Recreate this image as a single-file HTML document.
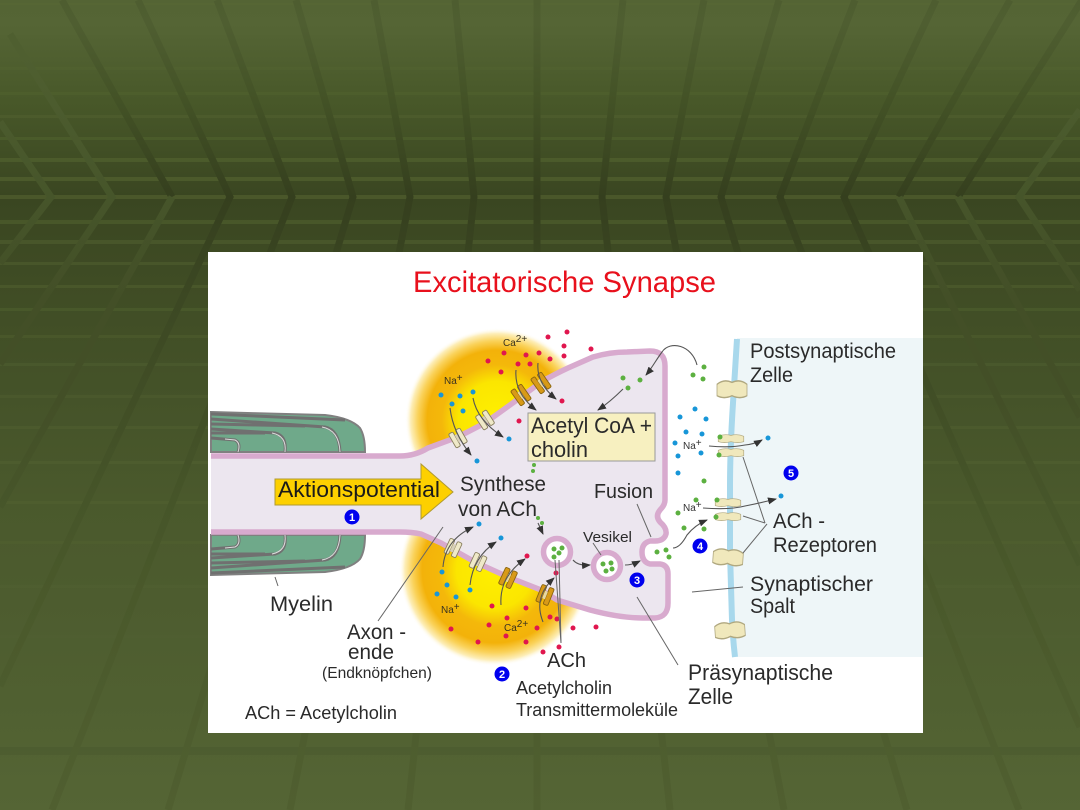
<!DOCTYPE html>
<html lang="de">
<head>
<meta charset="utf-8">
<title>Excitatorische Synapse</title>
<style>
html,body{margin:0;padding:0;background:#4a582c}
svg{display:block}
text{font-family:"Liberation Sans",sans-serif;fill:#2a2a2a}
.s{font-size:10px;fill:#3a3320}
.w{font-size:10px;fill:#333}
.n{font-size:11px;font-weight:bold;fill:#fff;text-anchor:middle}
.l{stroke:#666;stroke-width:1;fill:none}
.a{stroke:#555;stroke-width:1.1;fill:none;marker-end:url(#ar)}
.dia{filter:blur(.35px)}
</style>
</head>
<body>
<svg width="1080" height="810" viewBox="0 0 1080 810" xmlns="http://www.w3.org/2000/svg">
<defs>
<linearGradient id="bg" x1="0" y1="0" x2="0" y2="810" gradientUnits="userSpaceOnUse">
<stop offset="0" stop-color="#546434"/>
<stop offset=".03" stop-color="#556535"/>
<stop offset=".125" stop-color="#485829"/>
<stop offset=".243" stop-color="#3a4621"/>
<stop offset=".37" stop-color="#404d25"/>
<stop offset=".494" stop-color="#455329"/>
<stop offset=".617" stop-color="#4a592c"/>
<stop offset=".74" stop-color="#4d5c2f"/>
<stop offset=".864" stop-color="#506031"/>
<stop offset="1" stop-color="#556535"/>
</linearGradient>
<linearGradient id="dk" x1="0" y1="0" x2="0" y2="810" gradientUnits="userSpaceOnUse">
<stop offset="0" stop-color="#4e5d30"/>
<stop offset=".03" stop-color="#4f5e31"/>
<stop offset=".125" stop-color="#435226"/>
<stop offset=".243" stop-color="#353f1e"/>
<stop offset=".37" stop-color="#3c4823"/>
<stop offset=".494" stop-color="#414e26"/>
<stop offset=".617" stop-color="#465529"/>
<stop offset=".74" stop-color="#4a592b"/>
<stop offset=".864" stop-color="#4d5c2e"/>
<stop offset="1" stop-color="#505f30"/>
</linearGradient>
<linearGradient id="lt" x1="0" y1="0" x2="0" y2="810" gradientUnits="userSpaceOnUse">
<stop offset="0" stop-color="#4f5f30"/>
<stop offset=".07" stop-color="#4f5f30"/>
<stop offset=".243" stop-color="#46552a"/>
<stop offset=".37" stop-color="#434f27"/>
<stop offset=".494" stop-color="#434f27"/>
<stop offset=".63" stop-color="#47562a"/>
<stop offset="1" stop-color="#4f5e2f"/>
</linearGradient>
<radialGradient id="y1" gradientUnits="userSpaceOnUse" cx="497" cy="420" r="92">
<stop offset="0" stop-color="#fff000"/>
<stop offset=".42" stop-color="#fbe600"/>
<stop offset=".6" stop-color="#f4b80a"/>
<stop offset=".76" stop-color="#f3b20a"/>
<stop offset=".86" stop-color="#fad25a"/>
<stop offset=".94" stop-color="#fdeeb8"/>
<stop offset="1" stop-color="#fff" stop-opacity="0"/>
</radialGradient>
<radialGradient id="y2" gradientUnits="userSpaceOnUse" cx="495" cy="570" r="96">
<stop offset="0" stop-color="#fff000"/>
<stop offset=".4" stop-color="#fbe600"/>
<stop offset=".58" stop-color="#f4b80a"/>
<stop offset=".76" stop-color="#f3b20a"/>
<stop offset=".86" stop-color="#fad25a"/>
<stop offset=".94" stop-color="#fdeeb8"/>
<stop offset="1" stop-color="#fff" stop-opacity="0"/>
</radialGradient>
<marker id="ar" markerWidth="9" markerHeight="7" refX="8" refY="3.5" orient="auto" markerUnits="userSpaceOnUse">
<path d="M0 0L9 3.5L0 7Z" fill="#333"/>
</marker>
<g id="chp">
<rect x="-6.5" y="-8" width="5" height="16" rx="1.5" fill="#efe9c8" stroke="#8a8060" stroke-width=".9"/>
<rect x="1.5" y="-8" width="5" height="16" rx="1.5" fill="#efe9c8" stroke="#8a8060" stroke-width=".9"/>
<rect x="-1.5" y="-4" width="3" height="8" fill="#d8d0b8"/>
</g>
<g id="cho">
<rect x="-6.5" y="-9" width="5" height="18" rx="1.5" fill="#d89a18" stroke="#8a6510" stroke-width=".9"/>
<rect x="1.5" y="-9" width="5" height="18" rx="1.5" fill="#d89a18" stroke="#8a6510" stroke-width=".9"/>
<rect x="-1.5" y="-4" width="3" height="8" fill="#e8d8a0"/>
</g>
<path id="rc" d="M-15 -3Q-8 -6 0 -4Q8 -6 15 -3L15 3Q8 5 0 3Q-8 5 -15 3Z" fill="#f0e8bc" stroke="#b0a880" stroke-width=".8"/>
<g id="my">
<path d="M211 412L325 415Q351 418 360 428Q365 436 365 452L211 452Z" fill="#6fa98a" stroke="#808080" stroke-width="2"/>
<g fill="none" stroke="#707070" stroke-width="3">
<path d="M211 419L325 427Q339 430 340 452"/>
<path d="M211 429L275 433Q287 436 285 452"/>
<path d="M211 438L235 440Q241 443 238 452"/>
<path d="M211 414L345 420"/>
<path d="M211 424L305 426"/>
<path d="M211 433L265 433"/>
</g>
<g fill="none" stroke="#dcdcdc" stroke-width="1">
<path d="M322 427Q339 430 340 452"/>
<path d="M272 433Q287 436 285 452"/>
<path d="M225 439L235 440Q241 443 238 452"/>
</g>
</g>
</defs>

<!-- background -->
<rect width="1080" height="810" fill="url(#bg)"/>
<g fill="#788c46">
<rect y="3" width="1080" height="2" opacity=".06"/>
<rect y="33" width="1080" height="2" opacity=".04"/>
<rect y="67" width="1080" height="3" opacity=".07"/>
<rect y="92" width="1080" height="3" opacity=".09"/>
<rect y="115" width="1080" height="3" opacity=".12"/>
<rect y="137" width="1080" height="3" opacity=".16"/>
<rect y="158" width="1080" height="4" opacity=".22"/>
<rect y="177" width="1080" height="4" opacity=".26"/>
<rect y="195" width="1080" height="4" opacity=".26"/>
<rect y="220" width="1080" height="4" opacity=".22"/>
<rect y="240" width="1080" height="4" opacity=".2"/>
<rect y="262" width="1080" height="3" opacity=".18"/>
<rect y="285" width="1080" height="3" opacity=".18"/>
<rect y="308" width="1080" height="3" opacity=".16"/>
<rect y="335" width="1080" height="3" opacity=".14"/>
<rect y="363" width="1080" height="3" opacity=".12"/>
<rect y="395" width="1080" height="3" opacity=".11"/>
<rect y="426" width="1080" height="3" opacity=".11"/>
<rect y="461" width="1080" height="3" opacity=".11"/>
<rect y="501" width="1080" height="3" opacity=".1"/>
<rect y="541" width="1080" height="3" opacity=".08"/>
<rect y="585" width="1080" height="3" opacity=".06"/>
<rect y="635" width="1080" height="3" opacity=".04"/>
</g>
<rect y="747" width="1080" height="8" fill="#000" opacity=".05"/>
<g fill="none" stroke="url(#dk)" stroke-width="7">
<polyline points="62,0 172,197"/>
<polyline points="138,0 230,197 0,686"/>
<polyline points="217,0 292,197 52,810"/>
<polyline points="296,0 353,197 168,810"/>
<polyline points="374,0 410,197 290,810"/>
<polyline points="455,0 474,197 408,810"/>
<polyline points="623,0 602,197 670,810"/>
<polyline points="704,0 666,197 784,810"/>
<polyline points="779,0 721,197 907,810"/>
<polyline points="855,0 780,197 1019,810"/>
<polyline points="936,0 844,197 1080,727"/>
<polyline points="1010,0 899,197"/>
<polyline points="1082,0 958,197"/>
<line x1="537" y1="0" x2="537" y2="810"/>
</g>
<g fill="none" stroke="url(#lt)" stroke-width="7">
<polyline points="0,122 51,197 0,263"/>
<polyline points="10,34 112,197 0,364"/>
<polyline points="172,197 0,507"/>
<polyline points="899,197 1080,565"/>
<polyline points="958,197 1080,417"/>
<polyline points="1080,110 1019,197 1080,290"/>
</g>

<!-- white panel -->
<rect x="208" y="252" width="715" height="481" fill="#fff"/>

<g class="dia">
<!-- post-synaptic cell -->
<path d="M737 338L923 338L923 657L735 657Q730 600 730 550Q730 450 737 338Z" fill="#eef6f8"/>
<path d="M737 339Q735 370 733 403Q730 450 730 487L730 553Q731 590 732 620Q733 640 735 657" fill="none" stroke="#a8d8ec" stroke-width="6"/>

<!-- yellow halos -->
<circle cx="497" cy="420" r="92" fill="url(#y1)"/>
<circle cx="495" cy="570" r="96" fill="url(#y2)"/>

<!-- myelin -->
<use href="#my"/>
<use href="#my" transform="translate(0 987) scale(1 -1)"/>

<!-- presynaptic body -->
<path d="M211 456L400 456Q415 456 428 448L458 437L485 423L521 397L541 382Q555 374 568 368L593 357Q610 352 627 352L650 351Q665 351 665 366L665 500Q665 505 660 510Q655 516 660 522Q667 528 666 534Q664 541 655 541L650 541Q642 543 642 552Q642 562 650 564L660 564Q668 565 668 574L668 603Q668 617 655 618L643 618Q620 618 590 610L557 600L541 590L508 577L475 562L441 543L421 534Q412 532 400 532L211 532Z" fill="#ece6ef"/>
<path d="M211 456L400 456Q415 456 428 448L458 437L485 423L521 397L541 382Q555 374 568 368L593 357Q610 352 627 352L650 351Q665 351 665 366L665 500Q665 505 660 510Q655 516 660 522Q667 528 666 534Q664 541 655 541L650 541Q642 543 642 552Q642 562 650 564L660 564Q668 565 668 574L668 603Q668 617 655 618L643 618Q620 618 590 610L557 600L541 590L508 577L475 562L441 543L421 534Q412 532 400 532L211 532" fill="none" stroke="#d8aace" stroke-width="5.5"/>

<!-- channels -->
<use href="#chp" transform="translate(458 438) rotate(-30)"/>
<use href="#chp" transform="translate(485 420) rotate(-33)"/>
<use href="#cho" transform="translate(521 395) rotate(-35)"/>
<use href="#cho" transform="translate(541 383) rotate(-35)"/>
<use href="#chp" transform="translate(453 548) rotate(25)"/>
<use href="#chp" transform="translate(478 562) rotate(25)"/>
<use href="#cho" transform="translate(508 578) rotate(25)"/>
<use href="#cho" transform="translate(545 595) rotate(22)"/>

<!-- receptors -->
<use href="#rc" transform="translate(732 390) scale(1 1.9)"/>
<use href="#rc" transform="translate(731 439) scale(.85 .9)"/>
<use href="#rc" transform="translate(731 453) scale(.85 .9)"/>
<use href="#rc" transform="translate(728 503) scale(.85 .9)"/>
<use href="#rc" transform="translate(728 517) scale(.85 .9)"/>
<use href="#rc" transform="translate(728 558) rotate(4) scale(1 1.8)"/>
<use href="#rc" transform="translate(730 631) rotate(-4) scale(1 1.8)"/>

<!-- vesicles -->
<circle cx="557" cy="552" r="13.5" fill="#fff" stroke="#d8aace" stroke-width="5.5"/>
<circle cx="607" cy="566" r="13.5" fill="#fff" stroke="#d8aace" stroke-width="5.5"/>

<!-- box -->
<rect x="528" y="413" width="127" height="48" fill="#f7f0c0" stroke="#999" stroke-width="1"/>

<!-- action potential arrow -->
<path d="M275 479L421 479L421 464L453 492L421 519L421 505L275 505Z" fill="#fdd000" stroke="#b09a30" stroke-width="1"/>

<!-- dots -->
<g fill="#e0164e">
<circle cx="548" cy="337" r="2.5"/><circle cx="567" cy="332" r="2.5"/><circle cx="564" cy="346" r="2.5"/><circle cx="564" cy="356" r="2.5"/><circle cx="591" cy="349" r="2.5"/>
<circle cx="504" cy="353" r="2.5"/><circle cx="526" cy="355" r="2.5"/><circle cx="539" cy="353" r="2.5"/><circle cx="550" cy="359" r="2.5"/><circle cx="488" cy="361" r="2.5"/><circle cx="518" cy="364" r="2.5"/><circle cx="530" cy="364" r="2.5"/><circle cx="501" cy="372" r="2.5"/><circle cx="562" cy="401" r="2.5"/><circle cx="519" cy="421" r="2.5"/>
<circle cx="527" cy="556" r="2.5"/><circle cx="556" cy="573" r="2.5"/><circle cx="492" cy="606" r="2.5"/><circle cx="526" cy="608" r="2.5"/><circle cx="507" cy="618" r="2.5"/><circle cx="550" cy="617" r="2.5"/><circle cx="557" cy="619" r="2.5"/><circle cx="489" cy="625" r="2.5"/><circle cx="537" cy="628" r="2.5"/><circle cx="451" cy="629" r="2.5"/><circle cx="506" cy="636" r="2.5"/><circle cx="478" cy="642" r="2.5"/><circle cx="526" cy="642" r="2.5"/><circle cx="543" cy="652" r="2.5"/><circle cx="559" cy="647" r="2.5"/><circle cx="573" cy="628" r="2.5"/><circle cx="596" cy="627" r="2.5"/>
</g>
<g fill="#1796d8">
<circle cx="441" cy="395" r="2.5"/><circle cx="460" cy="396" r="2.5"/><circle cx="473" cy="392" r="2.5"/><circle cx="452" cy="404" r="2.5"/><circle cx="463" cy="411" r="2.5"/><circle cx="509" cy="439" r="2.5"/><circle cx="477" cy="461" r="2.5"/>
<circle cx="479" cy="524" r="2.5"/><circle cx="501" cy="538" r="2.5"/><circle cx="442" cy="572" r="2.5"/><circle cx="447" cy="585" r="2.5"/><circle cx="470" cy="590" r="2.5"/><circle cx="437" cy="594" r="2.5"/><circle cx="456" cy="597" r="2.5"/>
<circle cx="695" cy="409" r="2.5"/><circle cx="680" cy="417" r="2.5"/><circle cx="706" cy="419" r="2.5"/><circle cx="686" cy="432" r="2.5"/><circle cx="702" cy="434" r="2.5"/><circle cx="675" cy="443" r="2.5"/><circle cx="678" cy="456" r="2.5"/><circle cx="701" cy="453" r="2.5"/><circle cx="678" cy="473" r="2.5"/><circle cx="768" cy="438" r="2.5"/><circle cx="781" cy="496" r="2.5"/>
</g>
<g fill="#5cb040">
<circle cx="623" cy="378" r="2.5"/><circle cx="640" cy="380" r="2.5"/><circle cx="628" cy="388" r="2.5"/><circle cx="704" cy="367" r="2.5"/><circle cx="693" cy="375" r="2.5"/><circle cx="703" cy="379" r="2.5"/>
<circle cx="704" cy="481" r="2.5"/><circle cx="696" cy="500" r="2.5"/><circle cx="678" cy="513" r="2.5"/><circle cx="684" cy="528" r="2.5"/><circle cx="704" cy="529" r="2.5"/>
<circle cx="720" cy="437" r="2.5"/><circle cx="719" cy="455" r="2.5"/><circle cx="717" cy="500" r="2.5"/><circle cx="716" cy="517" r="2.5"/>
<circle cx="657" cy="552" r="2.5"/><circle cx="666" cy="550" r="2.5"/><circle cx="669" cy="557" r="2.5"/>
<circle cx="554" cy="549" r="2.5"/><circle cx="562" cy="548" r="2.5"/><circle cx="559" cy="553" r="2.5"/><circle cx="554" cy="557" r="2.5"/>
<circle cx="603" cy="564" r="2.5"/><circle cx="611" cy="563" r="2.5"/><circle cx="612" cy="569" r="2.5"/><circle cx="606" cy="571" r="2.5"/>
<circle cx="538" cy="518" r="2"/><circle cx="542" cy="523" r="2"/><circle cx="534" cy="465" r="2"/><circle cx="533" cy="471" r="2"/>
</g>

<!-- arrows -->
<path class="a" d="M450 408Q453 433 471 455"/>
<path class="a" d="M473 398Q477 420 503 437"/>
<path class="a" d="M516 370Q514 393 536 410"/>
<path class="a" d="M538 363Q536 383 556 399"/>
<path class="a" d="M443 567Q445 540 473 527"/>
<path class="a" d="M470 585Q473 557 496 542"/>
<path class="a" d="M501 605Q499 577 525 559"/>
<path class="a" d="M543 622Q533 597 554 578"/>
<path class="a" d="M538 523L543 534"/>
<path class="a" d="M573 560Q578 566 590 565"/>
<path class="a" d="M625 565Q632 565 640 561"/>
<path class="a" d="M697 365C692 345 670 340 662 352C656 360 652 368 646 375"/>
<path class="a" d="M623 389Q610 402 598 410"/>
<path class="a" d="M709 446Q730 448 745 445Q755 444 762 440"/>
<path class="a" d="M703 508Q730 510 745 506Q760 503 776 499"/>
<path class="a" d="M673 548Q680 548 687 535Q695 525 707 520"/>

<!-- leader lines -->
<path class="l" d="M593 543L601 555"/>
<path class="l" d="M637 504L651 537"/>
<path class="l" d="M637 597L678 665"/>
<path class="l" d="M555 560L561 643"/>
<path class="l" d="M559 560L561 643"/>
<path class="l" d="M443 527L378 621"/>
<path class="l" d="M275 577L278 586"/>
<path class="l" d="M692 592L743 587"/>
<path class="l" d="M743 457L765 523"/>
<path class="l" d="M743 516L765 523"/>
<path class="l" d="M767 524L743 553"/>

<!-- text -->
<text x="413" y="292" font-size="30" style="fill:#e8101c" textLength="303" lengthAdjust="spacingAndGlyphs">Excitatorische Synapse</text>
<text x="531" y="433" font-size="22" textLength="121" lengthAdjust="spacingAndGlyphs">Acetyl CoA +</text>
<text x="531" y="457" font-size="22" textLength="57" lengthAdjust="spacingAndGlyphs">cholin</text>
<text x="278" y="497" font-size="22" style="fill:#1a1a1a" textLength="162" lengthAdjust="spacingAndGlyphs">Aktionspotential</text>
<text x="460" y="491" font-size="21" textLength="86" lengthAdjust="spacingAndGlyphs">Synthese</text>
<text x="458" y="516" font-size="21" textLength="79" lengthAdjust="spacingAndGlyphs">von ACh</text>
<text x="594" y="498" font-size="20" textLength="59" lengthAdjust="spacingAndGlyphs">Fusion</text>
<text x="583" y="542" font-size="15" textLength="49" lengthAdjust="spacingAndGlyphs">Vesikel</text>
<text x="750" y="358" font-size="21.5" textLength="146" lengthAdjust="spacingAndGlyphs">Postsynaptische</text>
<text x="750" y="382" font-size="21.5" textLength="43" lengthAdjust="spacingAndGlyphs">Zelle</text>
<text x="773" y="528" font-size="21" textLength="52" lengthAdjust="spacingAndGlyphs">ACh -</text>
<text x="773" y="552" font-size="21" textLength="104" lengthAdjust="spacingAndGlyphs">Rezeptoren</text>
<text x="750" y="591" font-size="21.5" textLength="123" lengthAdjust="spacingAndGlyphs">Synaptischer</text>
<text x="750" y="613" font-size="21.5" textLength="45" lengthAdjust="spacingAndGlyphs">Spalt</text>
<text x="688" y="680" font-size="22.5" textLength="145" lengthAdjust="spacingAndGlyphs">Präsynaptische</text>
<text x="688" y="704" font-size="22.5" textLength="45" lengthAdjust="spacingAndGlyphs">Zelle</text>
<text x="270" y="611" font-size="21" textLength="63" lengthAdjust="spacingAndGlyphs">Myelin</text>
<text x="347" y="639" font-size="21" textLength="59" lengthAdjust="spacingAndGlyphs">Axon -</text>
<text x="348" y="659" font-size="21" textLength="46" lengthAdjust="spacingAndGlyphs">ende</text>
<text x="322" y="678" font-size="16" textLength="110" lengthAdjust="spacingAndGlyphs">(Endknöpfchen)</text>
<text x="245" y="719" font-size="18" textLength="152" lengthAdjust="spacingAndGlyphs">ACh = Acetylcholin</text>
<text x="547" y="667" font-size="20" textLength="39" lengthAdjust="spacingAndGlyphs">ACh</text>
<text x="516" y="694" font-size="18" textLength="96" lengthAdjust="spacingAndGlyphs">Acetylcholin</text>
<text x="516" y="716" font-size="18" textLength="162" lengthAdjust="spacingAndGlyphs">Transmittermoleküle</text>

<text class="s" x="444" y="384">Na<tspan dy="-3">+</tspan></text>
<text class="s" x="503" y="346">Ca<tspan dy="-4">2+</tspan></text>
<text class="s" x="441" y="613">Na<tspan dy="-3">+</tspan></text>
<text class="s" x="504" y="631">Ca<tspan dy="-4">2+</tspan></text>
<text class="w" x="683" y="449">Na<tspan dy="-3">+</tspan></text>
<text class="w" x="683" y="511">Na<tspan dy="-3">+</tspan></text>

<!-- number badges -->
<g fill="#0000ee">
<circle cx="352" cy="517" r="7.5"/><circle cx="502" cy="674" r="7.5"/><circle cx="637" cy="580" r="7.5"/><circle cx="700" cy="546" r="7.5"/><circle cx="791" cy="473" r="7.5"/>
</g>
<text class="n" x="352" y="521">1</text>
<text class="n" x="502" y="678">2</text>
<text class="n" x="637" y="584">3</text>
<text class="n" x="700" y="550">4</text>
<text class="n" x="791" y="477">5</text>
</g>
</svg>
</body>
</html>
